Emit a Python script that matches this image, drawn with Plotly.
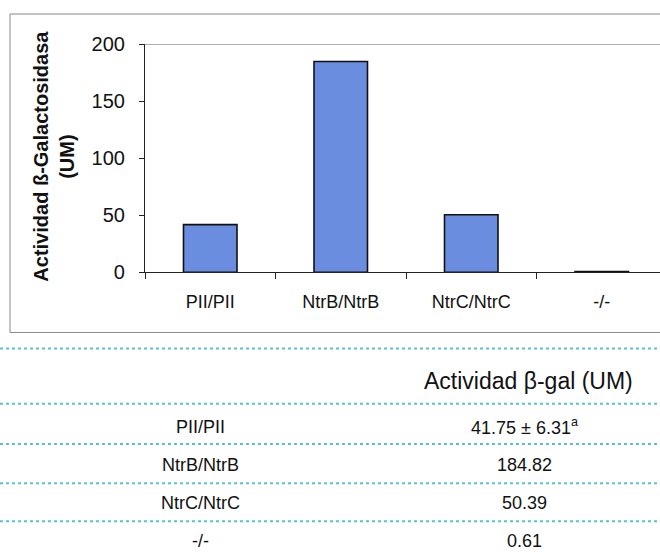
import plotly.graph_objects as go

categories = ["PII/PII", "NtrB/NtrB", "NtrC/NtrC", "-/-"]
values = [41.75, 184.82, 50.39, 0.61]
value_labels = ["41.75 ± 6.31<sup>a</sup>", "184.82", "50.39", "0.61"]
y_ticks = [0, 50, 100, 150, 200]
y_title = "Actividad ß-Galactosidasa<br>(UM)"
table_header = "Actividad β-gal (UM)"

W, H = 660, 555
FONT = "Liberation Sans, Arial, sans-serif"


def px(x):
    return x / W


def py(y):
    yc = (y - 12) / 0.956
    return 1 - yc / H


fig = go.Figure()
fig.add_trace(go.Bar(
    x=categories, y=values, width=0.41,
    marker=dict(color="#6a8de0", line=dict(color="#111111", width=1.6)),
    showlegend=False,
))

fig.update_layout(
    width=W, height=H,
    margin=dict(l=0, r=0, t=0, b=0),
    paper_bgcolor="white", plot_bgcolor="white",
    font=dict(family=FONT, color="#111111"),
    xaxis=dict(
        domain=[px(145), 1.0],
        range=[-0.5, 3.5 - 7 / 130.5],
        showline=True, linecolor="#222222", linewidth=1.2,
        ticks="outside", ticklen=6, tickcolor="#222222", tickson="boundaries",
        tickfont=dict(size=18, color="#111111"),
        ticklabelstandoff=13,
        showgrid=False, zeroline=False,
    ),
    yaxis=dict(
        domain=[py(272), py(45)],
        range=[0, 200],
        tickvals=y_ticks,
        showline=True, linecolor="#222222", linewidth=1.2,
        ticks="outside", ticklen=5, tickcolor="#222222",
        tickfont=dict(size=20, color="#111111"),
        ticklabelstandoff=10,
        showgrid=False, zeroline=False,
    ),
)

# top gridline at max
fig.add_shape(type="line", xref="paper", yref="y", x0=px(145), x1=1, y0=200, y1=200,
              line=dict(color="#555555", width=1))

# chart outer box
fig.add_shape(type="rect", xref="paper", yref="paper", x0=px(10), x1=px(670),
              y0=py(332), y1=py(15), line=dict(color="#888888", width=1))

# y title
fig.add_annotation(text="<b>" + y_title + "</b>", xref="paper", yref="paper",
                   x=px(54), y=py(157), textangle=-90, showarrow=False,
                   font=dict(size=20, color="#111111"), xanchor="center", yanchor="middle")

# table lines
for yy in [348, 403, 443, 482, 520]:
    fig.add_shape(type="line", xref="paper", yref="paper", x0=0, x1=1,
                  y0=py(yy), y1=py(yy), line=dict(color="#55c3d6", width=2, dash="dot"))

fig.add_annotation(text=table_header, xref="paper", yref="paper", x=px(528), y=py(380),
                   showarrow=False, font=dict(size=23, color="#111111"),
                   xanchor="center", yanchor="middle")

row_y = [426, 464, 502, 540]
for cat, lab, yy in zip(categories, value_labels, row_y):
    fig.add_annotation(text=cat, xref="paper", yref="paper", x=px(200), y=py(yy),
                       showarrow=False, font=dict(size=18, color="#111111"),
                       xanchor="center", yanchor="middle")
    fig.add_annotation(text=lab, xref="paper", yref="paper", x=px(524), y=py(yy),
                       showarrow=False, font=dict(size=18, color="#111111"),
                       xanchor="center", yanchor="middle")

fig.write_html("out.html", config={"displayModeBar": False},
               post_script="document.body.style.margin='0';")
